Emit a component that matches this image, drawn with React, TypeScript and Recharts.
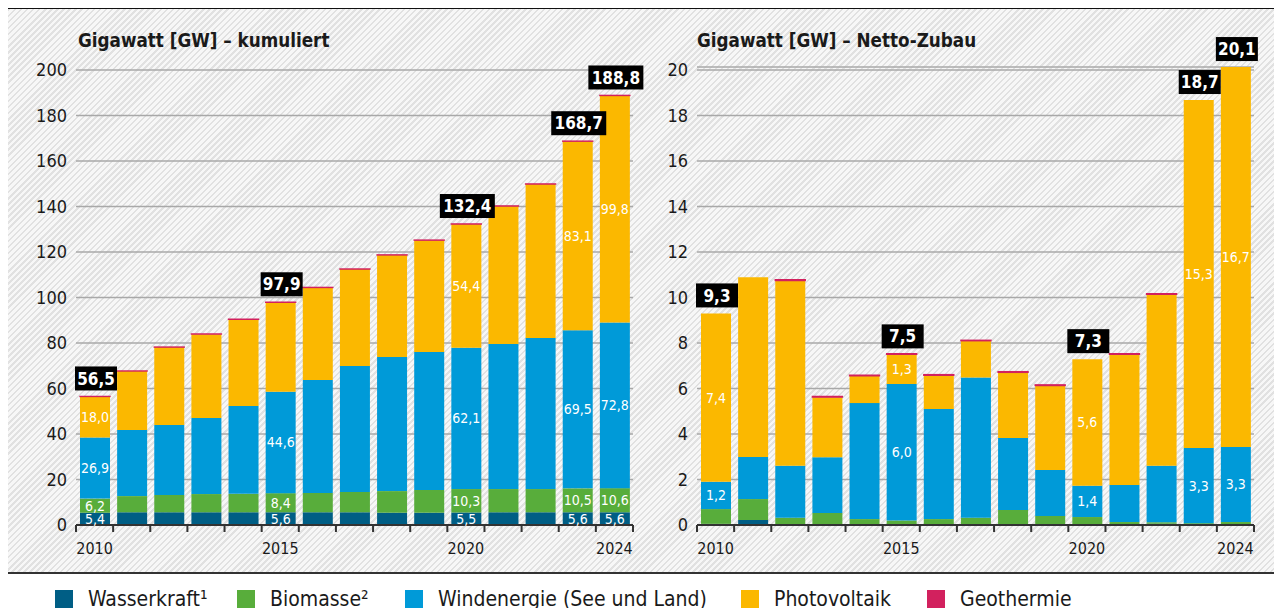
import React from "react";
import { BarChart, Bar, XAxis, YAxis, CartesianGrid, LabelList } from "recharts";

// years on the x axis
const years = [2010, 2011, 2012, 2013, 2014, 2015, 2016, 2017, 2018, 2019, 2020, 2021, 2022, 2023, 2024];
const axisYears = [2010, 2015, 2020, 2024];
const totalYears = [2010, 2015, 2020, 2023, 2024];

// kumuliert (GW)
const cumWasser = [5.4, 5.6, 5.6, 5.6, 5.6, 5.6, 5.6, 5.6, 5.4, 5.4, 5.5, 5.6, 5.6, 5.6, 5.6];
const cumBio = [6.2, 7.1, 7.6, 8.0, 8.1, 8.4, 8.5, 8.9, 9.5, 10.0, 10.3, 10.2, 10.2, 10.5, 10.6];
const cumWind = [26.9, 29.1, 30.8, 33.4, 38.6, 44.6, 49.6, 55.4, 58.9, 60.6, 62.1, 63.8, 66.4, 69.5, 72.8];
const cumPv = [18.0, 25.9, 34.2, 36.9, 38.1, 39.3, 40.7, 42.6, 44.9, 49.2, 54.4, 60.6, 67.7, 83.1, 99.8];
const cumGeo = [0.01, 0.01, 0.02, 0.03, 0.03, 0.03, 0.04, 0.04, 0.04, 0.04, 0.06, 0.05, 0.05, 0.04, 0.04];

// Netto-Zubau (GW)
const netWasser = [0.05, 0.22, 0.02, 0.02, 0.02, 0.02, 0.02, 0.01, 0.01, 0.03, 0.02, 0.02, 0.05, 0.02, 0.02];
const netBio = [0.65, 0.92, 0.3, 0.51, 0.24, 0.18, 0.24, 0.31, 0.65, 0.37, 0.33, 0.11, 0.07, 0.06, 0.11];
const netWind = [1.2, 1.85, 2.28, 2.45, 5.1, 6.0, 4.84, 6.16, 3.16, 2.02, 1.38, 1.63, 2.48, 3.3, 3.3];
const netPv = [7.4, 7.9, 8.15, 2.64, 1.2, 1.3, 1.48, 1.62, 2.89, 3.71, 5.56, 5.74, 7.54, 15.3, 16.7];
const netGeo = [0, 0, 0.03, 0.03, 0.03, 0.03, 0.03, 0.02, 0.03, 0.03, 0, 0.03, 0.03, 0, 0];

// which segments carry a value label
const ALL = ["wasser", "bio", "wind", "pv"];
const cumLabelled: Record<number, string[]> = {
  2010: ALL,
  2015: ["wasser", "bio", "wind"],
  2020: ALL,
  2023: ALL,
  2024: ALL,
};
const netLabelled: Record<number, string[]> = {
  2010: ["wind", "pv"],
  2015: ["wind", "pv"],
  2020: ["wind", "pv"],
  2023: ["wind", "pv"],
  2024: ["wind", "pv"],
};

const leftTicks = [0, 20, 40, 60, 80, 100, 120, 140, 160, 180, 200];
const rightTicks = [0, 2, 4, 6, 8, 10, 12, 14, 16, 18, 20];

const legendItems = [
  { name: "Wasserkraft¹", key: "wasser" },
  { name: "Biomasse²", key: "bio" },
  { name: "Windenergie (See und Land)", key: "wind" },
  { name: "Photovoltaik", key: "pv" },
  { name: "Geothermie", key: "geo" },
];
// legend item offsets (layout only)
const legendLeft = [47, 229, 397, 733, 919];

const COLORS: Record<string, string> = {
  wasser: "#005e85",
  bio: "#58ad3b",
  wind: "#009ad8",
  pv: "#fbb800",
  geo: "#d2215e",
};

const FONT = "'DejaVu Sans Condensed', 'DejaVu Sans', sans-serif";
const TEXT = "#1a1a1a";

const fmt = (v: number) => (Math.round(v * 10) / 10).toFixed(1).replace(".", ",");

interface Row {
  year: number;
  wasser: number;
  bio: number;
  wind: number;
  pv: number;
  geo: number;
  wasserL?: string;
  bioL?: string;
  windL?: string;
  pvL?: string;
  totalL?: string;
}

function buildRows(
  w: number[], b: number[], wi: number[], p: number[], g: number[],
  labelled: Record<number, string[]>,
): Row[] {
  return years.map((year, i) => {
    const row: Row = { year, wasser: w[i], bio: b[i], wind: wi[i], pv: p[i], geo: g[i] };
    const keys = labelled[year] ?? [];
    if (keys.includes("wasser")) row.wasserL = fmt(w[i]);
    if (keys.includes("bio")) row.bioL = fmt(b[i]);
    if (keys.includes("wind")) row.windL = fmt(wi[i]);
    if (keys.includes("pv")) row.pvL = fmt(p[i]);
    if (totalYears.includes(year)) row.totalL = fmt(w[i] + b[i] + wi[i] + p[i] + g[i]);
    return row;
  });
}

const cumRows = buildRows(cumWasser, cumBio, cumWind, cumPv, cumGeo, cumLabelled);
const netRows = buildRows(netWasser, netBio, netWind, netPv, netGeo, netLabelled);

// geometry
const CHART_H = 560;
const PLOT_BOTTOM = 517;
const PLOT_W = 557;
const PX_PER_LEFT = 455 / 200;
const PX_PER_RIGHT = 455 / 20;
const BAND = PLOT_W / years.length;

const TotalBox = (props: any) => {
  const vb = props.viewBox ?? {};
  const x = Number(props.x ?? vb.x);
  const y = Number(props.y ?? vb.y);
  const width = Number(props.width ?? vb.width);
  const value = props.value;
  if (value === undefined || value === null || value === "") return null;
  const text = String(value);
  const w = text.length > 4 ? 55 : 42;
  const h = 24;
  const cx = x + width / 2 + 1;
  const bottom = y - 6;
  return (
    <g>
      <rect x={cx - w / 2} y={bottom - h} width={w} height={h} fill="#000" />
      <text x={cx} y={bottom - h / 2} dy="0.36em" textAnchor="middle" fill="#fff" fontWeight="bold" fontSize={17}>
        {text}
      </text>
    </g>
  );
};

const YearTick = (props: any) => {
  const { x, y, payload, index } = props;
  const half = BAND / 2;
  return (
    <g>
      <line x1={x - half} x2={x - half} y1={y} y2={y + 7} stroke="#333" strokeWidth={2} />
      {index === years.length - 1 && (
        <line x1={x + half} x2={x + half} y1={y} y2={y + 7} stroke="#333" strokeWidth={2} />
      )}
      {axisYears.includes(payload.value) && (
        <text x={x} y={y + 23} dy="0.36em" textAnchor="middle" fontSize={16} fill={TEXT}>
          {payload.value}
        </text>
      )}
    </g>
  );
};

const segLabel = { fill: "#fff", fontSize: 14 };

function StackChart({ rows, ticks, top, width, yWidth, right }: {
  rows: Row[]; ticks: number[]; top: number; width: number; yWidth: number; right: number;
}) {
  const plotH = PLOT_BOTTOM - top;
  return (
    <BarChart
      width={width}
      height={CHART_H}
      data={rows}
      margin={{ top, right, left: 0, bottom: CHART_H - PLOT_BOTTOM - 30 }}
      barSize={30}
    >
      <CartesianGrid vertical={false} stroke="#a8a8a8" strokeWidth={1.3} />
      <XAxis
        dataKey="year"
        interval={0}
        tickLine={false}
        tickSize={0}
        tickMargin={0}
        height={30}
        axisLine={{ stroke: "#333", strokeWidth: 2 }}
        tick={YearTick}
      />
      <YAxis
        type="number"
        domain={[0, ticks[ticks.length - 1] * (plotH / 455)]}
        ticks={ticks}
        interval={0}
        axisLine={false}
        tickLine={false}
        tickSize={0}
        tickMargin={9}
        width={yWidth}
        tick={{ fontSize: 18, fill: TEXT }}
      />
      <Bar dataKey="wasser" stackId="a" fill={COLORS.wasser} isAnimationActive={false}>
        <LabelList dataKey="wasserL" position="center" {...segLabel} />
      </Bar>
      <Bar dataKey="bio" stackId="a" fill={COLORS.bio} isAnimationActive={false}>
        <LabelList dataKey="bioL" position="center" {...segLabel} />
      </Bar>
      <Bar dataKey="wind" stackId="a" fill={COLORS.wind} isAnimationActive={false}>
        <LabelList dataKey="windL" position="center" {...segLabel} />
      </Bar>
      <Bar dataKey="pv" stackId="a" fill={COLORS.pv} isAnimationActive={false}>
        <LabelList dataKey="pvL" position="center" {...segLabel} />
        <LabelList dataKey="totalL" content={TotalBox} />
      </Bar>
      <Bar
        dataKey="geo"
        stackId="a"
        fill={COLORS.geo}
        stroke={COLORS.geo}
        strokeWidth={1.4}
        isAnimationActive={false}
      />
    </BarChart>
  );
}

export default function App() {
  const netMax = Math.max(20, ...netRows.map(r => r.wasser + r.bio + r.wind + r.pv + r.geo));
  const rightTop = Math.round(PLOT_BOTTOM - netMax * PX_PER_RIGHT);
  const leftTop = Math.round(PLOT_BOTTOM - 200 * PX_PER_LEFT);

  return (
    <div style={{ position: "relative", width: 1274, height: 600, fontFamily: FONT, fontStretch: "condensed", color: TEXT }}>
      <div
        style={{
          position: "absolute",
          left: 0,
          top: 0,
          width: 1274,
          height: 566,
          boxSizing: "border-box",
          borderTop: "1px solid #111",
          borderBottom: "2px solid #333",
          background: "repeating-linear-gradient(135deg, #e1e1e1 0px, #e1e1e1 1.8px, #f7f7f7 1.8px, #f7f7f7 4.3px)",
        }}
      />
      <div style={{ position: "absolute", left: 70, top: 24, fontSize: 18.7, fontWeight: "bold", lineHeight: "18px", whiteSpace: "nowrap" }}>
        Gigawatt [GW] – kumuliert
      </div>
      <div style={{ position: "absolute", left: 689, top: 24, fontSize: 18.7, fontWeight: "bold", lineHeight: "18px", whiteSpace: "nowrap" }}>
        Gigawatt [GW] – Netto-Zubau
      </div>
      <div style={{ position: "absolute", left: 0, top: 0 }}>
        <StackChart rows={cumRows} ticks={leftTicks} top={leftTop} width={640} yWidth={68} right={15} />
      </div>
      <div style={{ position: "absolute", left: 640, top: 0 }}>
        <StackChart rows={netRows} ticks={rightTicks} top={rightTop} width={620} yWidth={49} right={14} />
      </div>
      {legendItems.map((item, i) => (
        <div
          key={item.key}
          style={{ position: "absolute", left: legendLeft[i], top: 580, display: "flex", alignItems: "center", whiteSpace: "nowrap" }}
        >
          <div style={{ width: 18, height: 18, background: COLORS[item.key], marginRight: 15 }} />
          <span style={{ fontSize: 21, lineHeight: "22px" }}>{item.name}</span>
        </div>
      ))}
    </div>
  );
}
